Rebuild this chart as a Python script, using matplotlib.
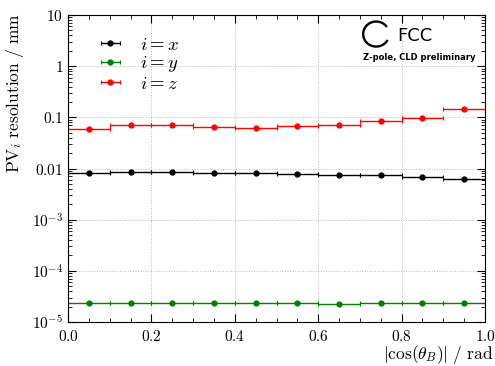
import numpy as np
import matplotlib
matplotlib.use("Agg")
import matplotlib.pyplot as plt
from matplotlib.patches import Arc
from matplotlib.ticker import FixedLocator, FixedFormatter, MultipleLocator, LogLocator, NullFormatter

plt.rcParams['mathtext.fontset'] = 'cm'
plt.rcParams['font.family'] = ['DejaVu Serif']

bin_centers = [0.05, 0.15, 0.25, 0.35, 0.45, 0.55, 0.65, 0.75, 0.85, 0.95]
res_x = [0.0082, 0.0086, 0.0084, 0.0082, 0.0082, 0.0077, 0.0076, 0.0074, 0.0069, 0.0063]
res_y = [2.32e-5, 2.33e-5, 2.32e-5, 2.32e-5, 2.31e-5, 2.32e-5, 2.28e-5, 2.32e-5, 2.32e-5, 2.32e-5]
res_z = [0.058, 0.071, 0.070, 0.065, 0.063, 0.069, 0.072, 0.084, 0.099, 0.148]
bin_halfwidth = 0.05

series = [("$i = x$", res_x, "black"), ("$i = y$", res_y, "green"), ("$i = z$", res_z, "red")]

fig = plt.figure(figsize=(4.95, 3.66), dpi=100)
ax = fig.add_axes([0.1374, 0.1202, 0.9798 - 0.1374, 0.959 - 0.1202])

for label, vals, col in series:
    ax.errorbar(bin_centers, vals, xerr=bin_halfwidth, fmt='o', color=col, ms=3.5,
                lw=1.0, capsize=1.5, capthick=0.8, label=label)

ax.set_yscale('log')
ax.set_xlim(0, 1)
ax.set_ylim(1e-5, 10)

xt = [0.0, 0.2, 0.4, 0.6, 0.8, 1.0]
ax.xaxis.set_major_locator(FixedLocator(xt))
ax.xaxis.set_major_formatter(FixedFormatter([r'$%.1f$' % v for v in xt]))
ax.xaxis.set_minor_locator(MultipleLocator(0.05))

yt = [1e-5, 1e-4, 1e-3, 1e-2, 1e-1, 1, 10]
ylabs = [r'$10^{-5}$', r'$10^{-4}$', r'$10^{-3}$', r'$0.01$', r'$0.1$', r'$1$', r'$10$']
ax.yaxis.set_major_locator(FixedLocator(yt))
ax.yaxis.set_major_formatter(FixedFormatter(ylabs))
ax.yaxis.set_minor_locator(LogLocator(base=10, subs=np.arange(2, 10), numticks=20))
ax.yaxis.set_minor_formatter(NullFormatter())

ax.tick_params(which='both', direction='in', top=True, right=True, labelsize=11)
ax.tick_params(which='major', length=6, width=0.8)
ax.tick_params(which='minor', length=3, width=0.6)
ax.tick_params(axis='x', pad=5)
ax.grid(True, which='major', linestyle=':', color='#bbbbbb', lw=0.7)

ax.set_ylabel(r'$\mathrm{PV}_i\ \mathrm{resolution\ /\ mm}$', fontsize=12.5, loc='top')
ax.yaxis.set_label_coords(-0.10, 1.005)
ax.set_xlabel(r'$|\cos(\theta_B)|\ /\ \mathrm{rad}$', fontsize=12.5, loc='right')
ax.xaxis.set_label_coords(1.019, -0.069)

leg = ax.legend(loc='upper left', bbox_to_anchor=(0.079, 0.933), frameon=False, fontsize=13.5,
                handletextpad=1.1, labelspacing=0.03, handlelength=1.0,
                borderpad=0, borderaxespad=0)

# FCC logo
arc = Arc((0.739, 0.938), 26 / 417, 25 / 307, angle=0, theta1=42, theta2=325,
          transform=ax.transAxes, color='black', lw=1.7)
ax.add_patch(arc)
ax.text(0.789, 0.93, 'FCC', transform=ax.transAxes, fontsize=13, family='DejaVu Sans',
        va='center', ha='left')
ax.text(0.978, 0.86, 'Z-pole, CLD preliminary', transform=ax.transAxes, fontsize=6,
        family='DejaVu Sans', weight='bold', va='center', ha='right')

fig.savefig('out.png', dpi=100)
